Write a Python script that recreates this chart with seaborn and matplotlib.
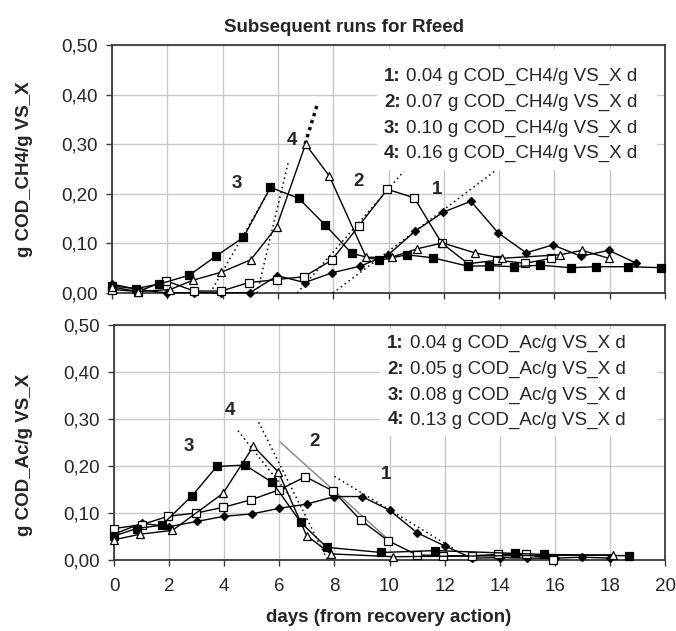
import matplotlib
matplotlib.use('Agg')
import matplotlib.pyplot as plt
import seaborn as sns
from matplotlib.patches import Rectangle
from matplotlib.ticker import FuncFormatter, MultipleLocator

# ---- top panel: CH4 production (g COD_CH4/g VS_X) ----
ch4_x1 = [0, 0.95, 2, 2.96, 3.96, 5.0, 5.98, 6.97, 7.97, 8.97, 9.99, 10.97, 11.98, 12.98, 13.97, 14.98, 15.94, 16.96, 17.97, 18.96]
ch4_y1 = [0.018, 0.007, 0.0, 0.001, 0.0, 0.001, 0.035, 0.021, 0.041, 0.054, 0.077, 0.125, 0.163, 0.185, 0.121, 0.081, 0.097, 0.074, 0.086, 0.060]
ch4_x2 = [0, 0.95, 1.94, 2.96, 3.96, 4.94, 5.95, 6.95, 7.94, 8.94, 9.96, 10.93, 11.92, 12.88, 13.91, 14.95, 15.89]
ch4_y2 = [0.007, 0.003, 0.025, 0.004, 0.004, 0.021, 0.027, 0.033, 0.066, 0.136, 0.209, 0.192, 0.101, 0.059, 0.066, 0.060, 0.070]
ch4_x3 = [0, 0.87, 1.71, 2.8, 3.75, 4.75, 5.73, 6.75, 7.71, 8.67, 9.66, 10.66, 11.6, 12.88, 13.65, 14.54, 15.48, 16.6, 17.49, 18.67, 19.87]
ch4_y3 = [0.014, 0.009, 0.018, 0.036, 0.074, 0.112, 0.213, 0.191, 0.137, 0.080, 0.066, 0.077, 0.071, 0.054, 0.055, 0.053, 0.056, 0.051, 0.053, 0.053, 0.051]
ch4_x4 = [0, 0.95, 2.1, 2.94, 3.96, 5.02, 5.95, 7.0, 7.86, 9.19, 10.11, 11.03, 11.95, 13.12, 14.1, 16.2, 17.0, 17.97]
ch4_y4 = [0.012, 0.003, 0.007, 0.026, 0.042, 0.067, 0.133, 0.300, 0.236, 0.072, 0.072, 0.089, 0.101, 0.081, 0.070, 0.077, 0.086, 0.070]

# rate lines (end points)
ch4_fit_x = [[7.99, 13.9], [6.7, 10.55], [3.55, 5.75], [5.25, 6.38]]
ch4_fit_y = [[0.0, 0.248], [0.0, 0.245], [0.0, 0.213], [0.0, 0.265]]
ch4_fit4b_x = [6.98, 7.45]
ch4_fit4b_y = [0.30, 0.385]

ch4_rates = ['0.04', '0.07', '0.10', '0.16']
ch4_tag_x = [11.74, 8.91, 4.53, 6.5]
ch4_tag_y = [0.209, 0.224, 0.221, 0.308]

# ---- bottom panel: acetate (g COD_Ac/g VS_X) ----
ac_x1 = [0, 1.0, 2.0, 3.0, 4.0, 5.0, 6.0, 7.0, 8.0, 9.0, 10.0, 11.0, 12.0, 13.0, 14.0, 15.0, 16.0, 17.0, 18.0]
ac_y1 = [0.055, 0.078, 0.071, 0.082, 0.093, 0.098, 0.110, 0.119, 0.135, 0.135, 0.106, 0.058, 0.030, 0.004, 0.005, 0.004, 0.004, 0.006, 0.004]
ac_x2 = [0, 1.0, 1.96, 2.99, 3.96, 4.97, 5.98, 6.95, 7.95, 8.95, 9.95, 10.99, 11.96, 12.99, 13.95, 14.96, 15.95]
ac_y2 = [0.067, 0.075, 0.093, 0.100, 0.112, 0.128, 0.149, 0.177, 0.147, 0.085, 0.041, 0.011, 0.009, 0.009, 0.012, 0.012, 0.001]
ac_x3 = [0, 0.82, 1.73, 2.84, 3.73, 4.75, 5.75, 6.78, 7.72, 9.7, 11.66, 14.56, 15.59, 18.7]
ac_y3 = [0.051, 0.067, 0.074, 0.137, 0.199, 0.202, 0.165, 0.080, 0.027, 0.016, 0.020, 0.014, 0.012, 0.009]
ac_x4 = [0, 0.96, 2.12, 3.96, 5.06, 5.97, 6.99, 7.87, 10.12, 18.1]
ac_y4 = [0.043, 0.055, 0.063, 0.142, 0.242, 0.187, 0.052, 0.013, 0.007, 0.011]

ac_fit_x = [[8.0, 12.3], [6.03, 10.1], [4.5, 6.4], [5.25, 7.75]]
ac_fit_y = [[0.178, 0.025], [0.251, 0.036], [0.275, 0.135], [0.293, 0.0]]

ac_rates = ['0.04', '0.05', '0.08', '0.13']
ac_tag_x = [9.89, 7.28, 2.73, 4.21]
ac_tag_y = [0.182, 0.253, 0.242, 0.319]

run_markers = ['D', 's', 's', '^']
run_faces = ['black', 'white', 'black', 'white']
run_sizes = [4.5, 5.3, 5.3, 6]

sns.set_style('white')
plt.rcParams['font.family'] = ['Liberation Sans', 'DejaVu Sans']
FS = 13.5

fig = plt.figure(figsize=(6.76, 6.31), dpi=100)
ax1 = fig.add_axes([112/676, 1-293/631, 553/676, 248/631])
ax2 = fig.add_axes([114/676, 1-560/631, 551/676, 235/631])


def style_axes(ax, show_xlabels):
    ax.set_xlim(0, 20)
    ax.set_ylim(0, 0.5)
    ax.xaxis.set_major_locator(MultipleLocator(2))
    ax.yaxis.set_major_locator(MultipleLocator(0.1))
    ax.yaxis.set_major_formatter(FuncFormatter(lambda v, p: f'{v:.2f}'.replace('.', ',')))
    ax.grid(True, color='#c8c8c8', linewidth=1, zorder=0)
    ax.set_axisbelow(True)
    for s in ax.spines.values():
        s.set_color('#3a3a3a')
        s.set_linewidth(1.3)
    ax.tick_params(axis='both', direction='out', length=4, width=1, color='#3a3a3a',
                   labelsize=FS, pad=6, bottom=True, left=True)
    ax.tick_params(axis='x', pad=9)
    if not show_xlabels:
        ax.tick_params(axis='x', labelbottom=False)
    ax.set_xlabel('')
    ax.set_ylabel('')


def draw_runs(ax, xs, ys):
    for x, y, m, fc, ms in zip(xs, ys, run_markers, run_faces, run_sizes):
        sns.lineplot(x=x, y=y, ax=ax, color='black', linewidth=1, marker=m, markersize=ms,
                     markerfacecolor=fc, markeredgecolor='black', markeredgewidth=0.9,
                     estimator=None, sort=False, clip_on=False, zorder=4)


def legend_box(ax, x0, y0, rows, unit):
    ax.add_patch(Rectangle((x0, y0), 0.985 - x0, 0.985 - y0, transform=ax.transAxes,
                           facecolor='white', edgecolor='none', zorder=5))
    for i, (r, ya) in enumerate(rows):
        ax.text(x0 + 0.013, ya, f'{i+1}:', transform=ax.transAxes, fontsize=FS,
                fontweight='bold', va='center', zorder=6)
        ax.annotate(f'{r} g {unit}/g VS_X d', xy=(x0 + 0.013, ya), xycoords='axes fraction',
                    xytext=(16, 0), textcoords='offset points', fontsize=FS, va='center', zorder=6)


# top panel
draw_runs(ax1, [ch4_x1, ch4_x2, ch4_x3, ch4_x4], [ch4_y1, ch4_y2, ch4_y3, ch4_y4])
for fx, fy in zip(ch4_fit_x, ch4_fit_y):
    ax1.plot(fx, fy, color='black', linewidth=1.1, linestyle=(0, (1, 2.2)), zorder=3)
ax1.plot(ch4_fit4b_x, ch4_fit4b_y, color='black', linewidth=2.4, linestyle=(0, (1, 1.2)), zorder=3)
for i, (tx, ty) in enumerate(zip(ch4_tag_x, ch4_tag_y)):
    ax1.text(tx, ty, str(i + 1), fontsize=FS, fontweight='bold', ha='center', va='center', zorder=6)
style_axes(ax1, False)
legend_box(ax1, 0.479, 0.496, list(zip(ch4_rates, [0.872, 0.769, 0.664, 0.563])), 'COD_CH4')

# bottom panel
draw_runs(ax2, [ac_x1, ac_x2, ac_x3, ac_x4], [ac_y1, ac_y2, ac_y3, ac_y4])
fit_styles = [(0, (1, 2.2)), '-', (0, (1, 2.2)), (0, (1, 2.2))]
fit_colors = ['black', '#8c8c8c', 'black', 'black']
for fx, fy, ls, c in zip(ac_fit_x, ac_fit_y, fit_styles, fit_colors):
    ax2.plot(fx, fy, color=c, linewidth=1.1, linestyle=ls, zorder=3)
for i, (tx, ty) in enumerate(zip(ac_tag_x, ac_tag_y)):
    ax2.text(tx, ty, str(i + 1), fontsize=FS, fontweight='bold', ha='center', va='center', zorder=6)
style_axes(ax2, True)
legend_box(ax2, 0.483, 0.526, list(zip(ac_rates, [0.923, 0.809, 0.702, 0.596])), 'COD_Ac')

fig.text(344/676, 1-27/631, 'Subsequent runs for Rfeed', fontsize=FS, fontweight='bold',
         ha='center', va='center')
fig.text(389/676, 1-617/631, 'days (from recovery action)', fontsize=FS, fontweight='bold',
         ha='center', va='center')
fig.text(25/676, 1-169/631, 'g COD_CH4/g VS_X', fontsize=FS, fontweight='bold',
         rotation=90, ha='center', va='center')
fig.text(25/676, 1-455/631, 'g COD_Ac/g VS_X', fontsize=FS, fontweight='bold',
         rotation=90, ha='center', va='center')

fig.savefig('out.png', dpi=100)
